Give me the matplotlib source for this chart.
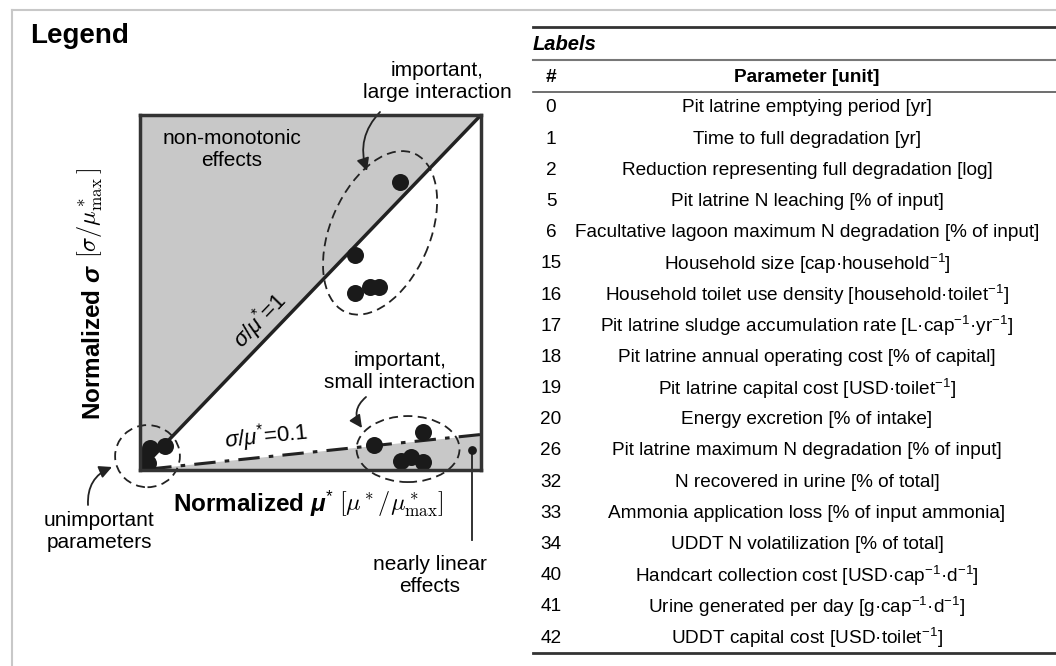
import numpy as np
import matplotlib.pyplot as plt
from matplotlib.patches import Ellipse, Polygon
from matplotlib.lines import Line2D

plt.rcParams['font.family'] = ['Liberation Sans', 'DejaVu Sans']
plt.rcParams['mathtext.fontset'] = 'custom'
plt.rcParams['mathtext.rm'] = 'Liberation Sans'
plt.rcParams['mathtext.it'] = 'Liberation Sans:italic'
plt.rcParams['mathtext.bf'] = 'Liberation Sans:bold'
plt.rcParams['mathtext.bfit'] = 'Liberation Sans:bold:italic'

# schematic morris points: normalized mu* and normalized sigma
pt_mu = [0.762, 0.630, 0.630, 0.675, 0.701,
         0.686, 0.830, 0.765, 0.795, 0.830,
         0.073, 0.030, 0.016, 0.008, 0.022]
pt_sigma = [0.811, 0.606, 0.499, 0.516, 0.516,
            0.070, 0.107, 0.024, 0.038, 0.022,
            0.068, 0.062, 0.040, 0.012, 0.020]
lin_mu = [0.974]
lin_sigma = [0.056]

# sigma/mu* reference lines
ratio_hi = 1.0
ratio_lo = 0.1

param_ids = [0, 1, 2, 5, 6, 15, 16, 17, 18, 19, 20, 26, 32, 33, 34, 40, 41, 42]
param_names = [
    "Pit latrine emptying period [yr]",
    "Time to full degradation [yr]",
    "Reduction representing full degradation [log]",
    "Pit latrine N leaching [% of input]",
    "Facultative lagoon maximum N degradation [% of input]",
    r"Household size [cap·household$^{\mathrm{-1}}$]",
    r"Household toilet use density [household·toilet$^{\mathrm{-1}}$]",
    r"Pit latrine sludge accumulation rate [L·cap$^{\mathrm{-1}}$·yr$^{\mathrm{-1}}$]",
    "Pit latrine annual operating cost [% of capital]",
    r"Pit latrine capital cost [USD·toilet$^{\mathrm{-1}}$]",
    "Energy excretion [% of intake]",
    "Pit latrine maximum N degradation [% of input]",
    "N recovered in urine [% of total]",
    "Ammonia application loss [% of input ammonia]",
    "UDDT N volatilization [% of total]",
    r"Handcart collection cost [USD·cap$^{\mathrm{-1}}$·d$^{\mathrm{-1}}$]",
    r"Urine generated per day [g·cap$^{\mathrm{-1}}$·d$^{\mathrm{-1}}$]",
    r"UDDT capital cost [USD·toilet$^{\mathrm{-1}}$]",
]

W, H = 1056, 666
fig = plt.figure(figsize=(W / 100, H / 100), dpi=100)

def fx(x):
    return x / W

def fy(y):
    return 1 - y / H

dark = '#222222'
gray = '#c8c8c8'

# outer light frame
fig.add_artist(Line2D([fx(12), fx(12)], [0, fy(10)], color='#c8c8c8', lw=1.5))
fig.add_artist(Line2D([fx(12), 1], [fy(10), fy(10)], color='#c8c8c8', lw=1.5))

fig.text(fx(30), fy(36), "Legend", fontsize=20, fontweight='bold', va='center')

ax = fig.add_axes([fx(140), fy(470), fx(481) - fx(140), fy(115) - fy(470)])
ax.set_xlim(0, 1)
ax.set_ylim(0, 1)
ax.set_xticks([])
ax.set_yticks([])
for s in ax.spines.values():
    s.set_linewidth(2.5)
    s.set_color('#333333')
    s.set_zorder(6)

ax.add_patch(Polygon([(0, 0), (1, ratio_hi), (0, 1)], closed=True, fc=gray, ec='none', zorder=1))
ax.add_patch(Polygon([(0, 0), (1, 0), (1, ratio_lo)], closed=True, fc=gray, ec='none', zorder=1))
ax.plot([0, 1], [0, ratio_hi], color=dark, lw=2.5, zorder=3)
ax.plot([0.03, 1], [0.03 * ratio_lo, ratio_lo], color=dark, lw=2.2,
        linestyle=(0, (7, 3, 1.5, 3)), zorder=3)

ax.scatter(pt_mu, pt_sigma, s=150, color='#1a1a1a', zorder=5, linewidths=0)
ax.scatter(lin_mu, lin_sigma, s=40, color='#1a1a1a', zorder=5, linewidths=0)

ell = dict(fill=False, ec=dark, lw=1.3, ls=(0, (5, 3)), clip_on=False, zorder=4)
ax.add_patch(Ellipse((0.704, 0.668), 0.49, 0.29, angle=65, **ell))
ax.add_patch(Ellipse((0.022, 0.039), 0.19, 0.175, **ell))
ax.add_patch(Ellipse((0.786, 0.059), 0.302, 0.186, **ell))

ax.text(0.352, 0.42, r"$\sigma/\mu^{*}$=1", fontsize=16, rotation=46,
        ha='center', va='center', zorder=6)
ax.text(0.370, 0.094, r"$\sigma/\mu^{*}$=0.1", fontsize=16, rotation=5.9,
        ha='center', va='center', zorder=6)

# nearly linear marker line
ax.plot([lin_mu[0], lin_mu[0]], [lin_sigma[0], -0.197], color=dark, lw=1.3, clip_on=False)

# annotation texts
fig.text(fx(232), fy(150), "non-monotonic\neffects", fontsize=15, ha='center', va='center',
         linespacing=1.2)
fig.text(fx(437), fy(81), "important,\nlarge interaction", fontsize=15, ha='center', va='center',
         linespacing=1.2)
fig.text(fx(400), fy(372), "important,\nsmall interaction", fontsize=15, ha='center', va='center',
         linespacing=1.2)
fig.text(fx(99), fy(532), "unimportant\nparameters", fontsize=15, ha='center', va='center',
         linespacing=1.2)
fig.text(fx(430), fy(575), "nearly linear\neffects", fontsize=15, ha='center', va='center',
         linespacing=1.2)

arr = dict(arrowstyle='-|>,head_length=0.5,head_width=0.25', color=dark, lw=1.3,
           mutation_scale=15, shrinkA=0, shrinkB=0)
ax.annotate('', xy=(367, H - 171), xytext=(380, H - 112), xycoords='figure pixels',
            textcoords='figure pixels', arrowprops=dict(connectionstyle='arc3,rad=0.3', **arr))
ax.annotate('', xy=(362, H - 428), xytext=(366, H - 397), xycoords='figure pixels',
            textcoords='figure pixels', arrowprops=dict(connectionstyle='arc3,rad=0.45', **arr))
ax.annotate('', xy=(112, H - 467), xytext=(88, H - 505), xycoords='figure pixels',
            textcoords='figure pixels', arrowprops=dict(connectionstyle='arc3,rad=-0.35', **arr))

# axis labels
xl1 = fig.text(fx(173), fy(512), r"Normalized $\mathbfit{\mu}^{*}$", fontsize=17.5,
               fontweight='bold', ha='left', va='baseline')
ax.annotate(r"$[\mu^*/\mu^*_{\mathrm{max}}]$", xy=(1, 0), xycoords=xl1, xytext=(4, 0),
            textcoords='offset points', fontsize=17.5, math_fontfamily='cm',
            ha='left', va='bottom')

yl1 = fig.text(fx(105), fy(420), r"Normalized $\mathbfit{\sigma}$", fontsize=17.5,
               fontweight='bold', rotation=90, ha='right', va='bottom')
ax.annotate(r"$[\sigma/\mu^*_{\mathrm{max}}\,]$", xy=(1, 1), xycoords=yl1, xytext=(0, 4),
            textcoords='offset points', fontsize=17.5, math_fontfamily='cm',
            rotation=90, ha='right', va='bottom')

# table
tl = dict(transform=fig.transFigure, color='#333333')
fig.add_artist(Line2D([fx(533), 1], [fy(27), fy(27)], lw=2, **tl))
fig.add_artist(Line2D([fx(533), 1], [fy(60), fy(60)], lw=1.5, transform=fig.transFigure, color='#777777'))
fig.add_artist(Line2D([fx(533), 1], [fy(92), fy(92)], lw=1.2, transform=fig.transFigure, color='#555555'))
fig.add_artist(Line2D([fx(533), 1], [fy(653), fy(653)], lw=2, **tl))

fig.text(fx(533), fy(45), "Labels", fontsize=14.5, fontweight='bold', fontstyle='italic',
         ha='left', va='center')
fig.text(fx(551), fy(78), "#", fontsize=13.7, fontweight='bold', ha='center', va='center')
fig.text(fx(807), fy(78), "Parameter [unit]", fontsize=13.7, fontweight='bold',
         ha='center', va='center')

row_top, row_step = 108, 31.18
for i, (pid, name) in enumerate(zip(param_ids, param_names)):
    y = row_top + i * row_step
    fig.text(fx(551), fy(y), str(pid), fontsize=13.7, ha='center', va='center')
    fig.text(fx(807), fy(y), name, fontsize=13.7, ha='center', va='center')

plt.savefig('out.png', dpi=100)
